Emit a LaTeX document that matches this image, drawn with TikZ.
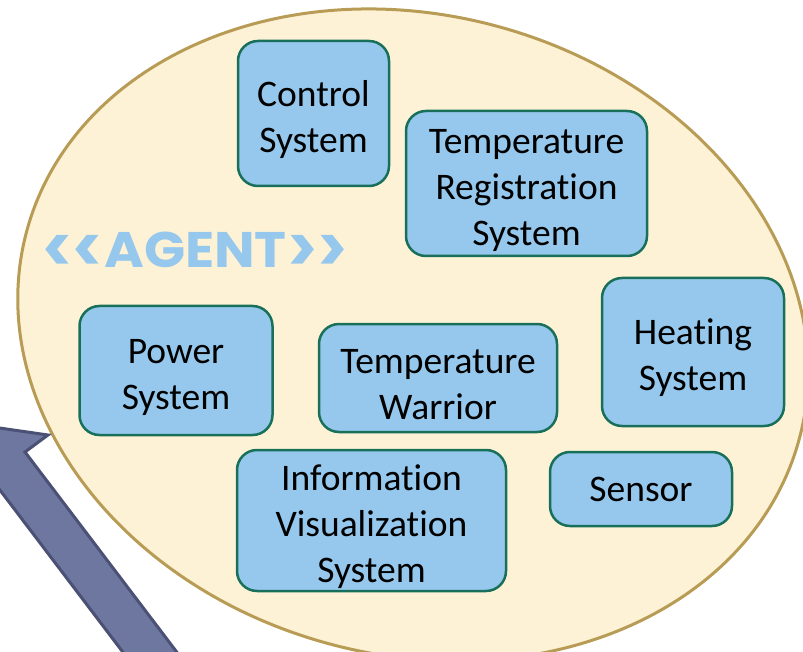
\documentclass[tikz,border=0pt]{standalone}
\usepackage{fontspec}
\setmainfont{Carlito}[Ligatures=NoCommon]
\newfontfamily\agentfont{Poppins}
\definecolor{cream}{HTML}{FDF2D5}
\definecolor{gold}{HTML}{B89C55}
\definecolor{boxblue}{HTML}{95C8EC}
\definecolor{boxgreen}{HTML}{18705A}
\definecolor{arrowfill}{HTML}{6E779F}
\definecolor{arrowline}{HTML}{4B5175}
\newcommand{\chevs}[1]{\raisebox{-5pt}{\scalebox{1.12}[1.3]{#1\kern-1pt#1}}}
\newcommand{\topstrut}{\rule{0pt}{38pt}}
\tikzset{
  agentshape/.style={draw=gold, fill=cream, line width=3pt},
  boxnode/.style={draw=boxgreen, fill=boxblue, line width=2.5pt, rounded corners=20pt,
    inner sep=0pt, align=center, text=black, font={\fontsize{37.5}{46}\selectfont}},
  blockarrow/.style={draw=arrowline, fill=arrowfill, line width=3pt, line join=miter},
  stereotype/.style={text=boxblue, font={\agentfont\bfseries\fontsize{50}{52}\selectfont}, inner sep=0pt}
}
\begin{document}
\begin{tikzpicture}[x=1pt, y=1pt]
\useasboundingbox (0,0) rectangle (803,-652);
\clip (0,0) rectangle (803,-652);
% agent ellipse
\draw[agentshape, rotate around={-15:(413,-335)}] (413,-335) ellipse [x radius=400, y radius=320];
% block arrow
\draw[blockarrow] (-22.7,-424.8) -- (48,-435) -- (25,-452) -- (267,-771)
  -- (232.8,-797) -- (-9.2,-478) -- (-32,-495.3) -- cycle;
% stereotype label
\node[stereotype] (agent) at (195,-252) {\chevs{<}\kern1pt\scalebox{1.08}[1]{AGENT}\kern1pt\chevs{>}};
% components
\node[boxnode, minimum width=151, minimum height=145] (ctrl) at (313.5,-113.5) {\topstrut Control\\System};
\node[boxnode, minimum width=241, minimum height=145] (treg) at (526.5,-183.5) {\topstrut Temperature\\Registration\\System};
\node[boxnode, minimum width=193, minimum height=129] (power) at (176,-370.5) {\topstrut Power\\System};
\node[boxnode, minimum width=238, minimum height=108] (twar) at (438,-378) {\topstrut Temperature\\Warrior};
\node[boxnode, minimum width=182, minimum height=148] (heat) at (693,-352) {\topstrut Heating\\System};
\node[boxnode, minimum width=269, minimum height=141] (info) at (371.5,-520.5) {\topstrut Information\\Visualization\\System};
\node[boxnode, minimum width=182, minimum height=74] (sensor) at (641,-489) {Sensor};
\end{tikzpicture}
\end{document}
